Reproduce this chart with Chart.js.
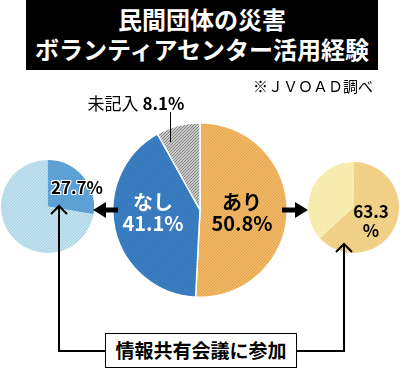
<!DOCTYPE html>
<html><head><meta charset="utf-8">
<script src="https://cdn.jsdelivr.net/npm/chart.js@4"></script>
<style>
html,body{margin:0;padding:0;background:#fff;}
#wrap{position:relative;width:400px;height:370px;overflow:hidden;font-family:"Noto Sans CJK JP","Noto Sans",sans-serif;}
canvas{position:absolute;}
.t{position:absolute;white-space:nowrap;transform:translate(-50%,-50%);line-height:1;}
#title{position:absolute;left:26px;top:0;width:352px;height:70px;background:#000;color:#fff;font-weight:bold;font-size:24px;text-align:center;line-height:30px;padding-top:4px;box-sizing:border-box;}
#box{position:absolute;left:105px;top:333px;width:192px;height:35px;background:#fff;border:1.5px solid #000;box-sizing:border-box;font-weight:bold;font-size:19px;text-align:center;line-height:32px;}
</style></head>
<body><div id="wrap">
<div id="title">民間団体の災害<br>ボランティアセンター活用経験</div>
<canvas id="cL" width="93" height="93" style="left:1px;top:160px"></canvas>
<canvas id="cM" width="176" height="176" style="left:112px;top:122px"></canvas>
<canvas id="cR" width="91" height="91" style="left:308px;top:162px"></canvas>
<canvas id="ov" width="400" height="370" style="left:0;top:0"></canvas>
<div class="t" style="left:313px;top:85px;font-size:15px;">※ＪＶＯＡＤ調べ</div>
<div class="t" style="left:136px;top:102px;font-size:17px;" id="lblNA"></div>
<div class="t" style="left:153px;top:202px;font-size:20px;font-weight:bold;color:#fff;" id="lblNo1"></div>
<div class="t" style="left:153px;top:223px;font-size:20px;font-weight:bold;color:#fff;" id="lblNo2"></div>
<div class="t" style="left:242px;top:202px;font-size:20px;font-weight:bold;" id="lblYes1"></div>
<div class="t" style="left:242px;top:223px;font-size:20px;font-weight:bold;" id="lblYes2"></div>
<div class="t" style="left:77px;top:186px;font-size:17px;font-weight:bold;text-shadow:-1px -1px 0 #fff,1px -1px 0 #fff,-1px 1px 0 #fff,1px 1px 0 #fff,0 1px 0 #fff,0 -1px 0 #fff,1px 0 0 #fff,-1px 0 0 #fff;" id="lblL"></div>
<div class="t" style="left:371px;top:210px;font-size:17px;font-weight:bold;" id="lblR1"></div>
<div class="t" style="left:371px;top:229px;font-size:17px;font-weight:bold;">%</div>
<div id="box"></div>
</div>
<script>
// Data
const mainLabels = ['あり', 'なし', '未記入'];
const mainValues = [50.8, 41.1, 8.1];
const noLabels = ['情報共有会議に参加', '不参加'];
const noValues = [27.7, 72.3];
const yesLabels = ['情報共有会議に参加', '不参加'];
const yesValues = [63.3, 36.7];
const boxLabel = '情報共有会議に参加';

function pat(base, dot, a){
  const c = document.createElement('canvas'); c.width = 3; c.height = 3;
  const x = c.getContext('2d');
  x.fillStyle = base; x.fillRect(0,0,3,3);
  x.globalAlpha = a; x.fillStyle = dot;
  x.fillRect(0,0,1,1); x.fillRect(2,1,1,1); x.fillRect(1,2,1,1);
  return x.createPattern(c,'repeat');
}

function pie(id, labels, values, colors, bw){
  new Chart(document.getElementById(id), {
    type: 'pie',
    data: { labels, datasets: [{ data: values, backgroundColor: colors, borderColor: '#fff', borderWidth: bw }] },
    options: { responsive: false, animation: false, rotation: 0,
      layout: { padding: 0 },
      plugins: { legend: { display: false }, tooltip: { enabled: false } } }
  });
}
pie('cM', mainLabels, mainValues, [pat('#F2B765','#C98A30',0.35), pat('#3C80C4','#1F5A9A',0.35), pat('#C9C9C9','#555',0.6)], 1.5);
pie('cL', noLabels, noValues, [pat('#62A5D8','#3B7DB5',0.35), pat('#C3E2EF','#8CC3DB',0.5)], 0);
pie('cR', yesLabels, yesValues, [pat('#F3D58D','#D4AE5A',0.35), pat('#FBF0B6','#E8D88A',0.5)], 0);

document.getElementById('lblNA').innerHTML = mainLabels[2] + ' <b>' + mainValues[2].toFixed(1) + '%</b>';
document.getElementById('lblNo1').textContent = mainLabels[1];
document.getElementById('lblNo2').textContent = mainValues[1].toFixed(1) + '%';
document.getElementById('lblYes1').textContent = mainLabels[0];
document.getElementById('lblYes2').textContent = mainValues[0].toFixed(1) + '%';
document.getElementById('lblL').textContent = noValues[0].toFixed(1) + '%';
document.getElementById('lblR1').textContent = yesValues[0].toFixed(1);
document.getElementById('box').textContent = boxLabel;

// Connectors
const o = document.getElementById('ov').getContext('2d');
o.strokeStyle = '#000'; o.fillStyle = '#000';
o.lineWidth = 1; o.beginPath(); o.moveTo(170.5, 112); o.lineTo(170.5, 142); o.stroke();
function thick(x0, x1, y){
  const dir = Math.sign(x1 - x0);
  o.lineWidth = 5; o.beginPath(); o.moveTo(x0, y); o.lineTo(x1 - dir*10, y); o.stroke();
  o.beginPath(); o.moveTo(x1, y); o.lineTo(x1 - dir*13, y - 8); o.lineTo(x1 - dir*13, y + 8); o.closePath(); o.fill();
}
thick(118, 93, 210);
thick(282, 308, 210);
o.lineWidth = 2;
o.beginPath(); o.moveTo(59, 206); o.lineTo(59, 351); o.lineTo(106, 351); o.stroke();
o.beginPath(); o.moveTo(51, 214); o.lineTo(59, 206); o.lineTo(67, 214); o.stroke();
o.beginPath(); o.moveTo(296, 351); o.lineTo(344, 351); o.lineTo(344, 244); o.stroke();
o.beginPath(); o.moveTo(336, 252); o.lineTo(344, 244); o.lineTo(352, 252); o.stroke();
</script>
</body></html>
